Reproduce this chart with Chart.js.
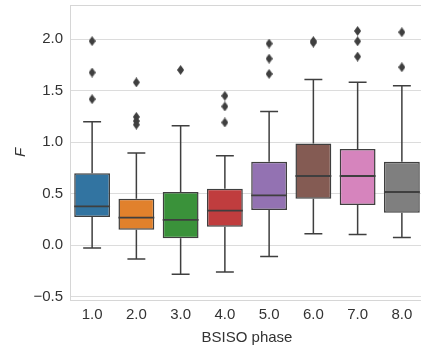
<!DOCTYPE html>
<html>
<head>
<meta charset="utf-8">
<script src="https://cdn.jsdelivr.net/npm/chart.js@4"></script>
<style>
  html, body { margin: 0; padding: 0; background: #fff; overflow: hidden; }
  #wrap { width: 421px; height: 347px; overflow: hidden; }
</style>
</head>
<body>
<div id="wrap"><canvas id="myChart" width="429" height="347"></canvas></div>
<script>
// BSISO phase boxplot values
const phases = ['1.0', '2.0', '3.0', '4.0', '5.0', '6.0', '7.0', '8.0'];
const q1 = [0.275, 0.152, 0.068, 0.181, 0.343, 0.452, 0.391, 0.317];
const q3 = [0.700, 0.452, 0.517, 0.549, 0.810, 0.987, 0.933, 0.810];
const medians = [0.377, 0.268, 0.246, 0.336, 0.484, 0.672, 0.672, 0.517];
const whiskerLow = [-0.025, -0.132, -0.281, -0.258, -0.109, 0.113, 0.104, 0.075];
const whiskerHigh = [1.197, 0.894, 1.159, 0.868, 1.297, 1.607, 1.580, 1.546];
const outliers = [
  [1.98, 1.675, 1.417],
  [1.58, 1.245, 1.205, 1.17],
  [1.70],
  [1.449, 1.346, 1.191],
  [1.956, 1.81, 1.662],
  [1.965, 1.98],
  [2.078, 1.978, 1.83],
  [2.066, 1.727]
];
const yTicks = [-0.5, 0.0, 0.5, 1.0, 1.5, 2.0];

const boxColors = ['#3274a1', '#e1812c', '#3a923a', '#c03d3e', '#9372b2', '#845b53', '#d684bd', '#7f7f7f'];
const edge = '#3f3f3f';

// thin diamond marker like matplotlib 'd'
const dia = document.createElement('canvas');
dia.width = 7; dia.height = 10;
const dctx = dia.getContext('2d');
dctx.fillStyle = edge;
dctx.beginPath();
dctx.moveTo(3.5, 0); dctx.lineTo(7, 5); dctx.lineTo(3.5, 10); dctx.lineTo(0, 5);
dctx.closePath(); dctx.fill();

const boxData = phases.map((p, i) => [q1[i], q3[i]]);
const outlierData = [];
outliers.forEach((arr, i) => {
  arr.forEach(v => outlierData.push({x: phases[i], y: v}));
});

const frame = {
  id: 'frame',
  beforeDatasetsDraw(chart) {
    const a = chart.chartArea, c = chart.ctx;
    c.save();
    c.strokeStyle = '#d6d6d6';
    c.lineWidth = 1;
    c.strokeRect(a.left + 0.5, a.top + 0.5, a.right - a.left, a.bottom - a.top);
    c.restore();
  }
};

const whiskers = {
  id: 'whiskers',
  afterDatasetsDraw(chart) {
    const c = chart.ctx, xs = chart.scales.x, ys = chart.scales.y;
    const meta = chart.getDatasetMeta(0);
    c.save();
    c.strokeStyle = edge;
    c.lineWidth = 1.5;
    phases.forEach((p, i) => {
      const x = xs.getPixelForValue(i);
      const half = meta.data[i].width / 2;
      const cap = half / 2;
      c.beginPath();
      c.moveTo(x, ys.getPixelForValue(q3[i]));
      c.lineTo(x, ys.getPixelForValue(whiskerHigh[i]));
      c.moveTo(x - cap, ys.getPixelForValue(whiskerHigh[i]));
      c.lineTo(x + cap, ys.getPixelForValue(whiskerHigh[i]));
      c.moveTo(x, ys.getPixelForValue(q1[i]));
      c.lineTo(x, ys.getPixelForValue(whiskerLow[i]));
      c.moveTo(x - cap, ys.getPixelForValue(whiskerLow[i]));
      c.lineTo(x + cap, ys.getPixelForValue(whiskerLow[i]));
      c.stroke();
      c.beginPath();
      c.lineWidth = 1.8;
      c.moveTo(x - half, ys.getPixelForValue(medians[i]));
      c.lineTo(x + half, ys.getPixelForValue(medians[i]));
      c.stroke();
      c.lineWidth = 1.5;
    });
    c.restore();
  }
};

const font = {family: '"Liberation Sans", Arial, sans-serif', size: 15};

new Chart(document.getElementById('myChart'), {
  type: 'bar',
  data: {
    labels: phases,
    datasets: [{
      data: boxData,
      backgroundColor: boxColors,
      borderColor: edge,
      borderWidth: 1.5,
      borderSkipped: false,
      barPercentage: 0.81,
      categoryPercentage: 1.0
    }, {
      type: 'line',
      data: outlierData,
      showLine: false,
      pointStyle: dia,
      pointRadius: 4,
      borderColor: edge,
      backgroundColor: edge
    }]
  },
  options: {
    responsive: false,
    animation: false,
    layout: {padding: {top: 5, right: 0, left: 0, bottom: 0}},
    plugins: {legend: {display: false}, tooltip: {enabled: false}},
    scales: {
      x: {
        grid: {display: false, drawTicks: false},
        border: {color: '#d6d6d6'},
        ticks: {color: '#333', font: font, padding: 6},
        title: {display: true, text: 'BSISO phase', color: '#333', font: font, padding: {top: 0, bottom: 0}},
        afterFit: s => { s.height = 47; s.paddingLeft = 0; s.paddingRight = 0; }
      },
      y: {
        min: -0.53,
        max: 2.33,
        afterBuildTicks: s => { s.ticks = yTicks.map(v => ({value: v})); },
        grid: {color: '#dcdcdc', drawTicks: false},
        border: {color: '#d6d6d6'},
        ticks: {
          color: '#333', font: font, padding: 7,
          callback: v => (v < 0 ? '\u2212' + Math.abs(v).toFixed(1) : v.toFixed(1))
        },
        title: {display: true, text: 'F', color: '#333', font: {family: font.family, size: 15, style: 'italic'}, padding: {top: 12, bottom: 0}},
        afterFit: s => { s.width = 70; s.paddingTop = 0; s.paddingBottom = 0; }
      }
    }
  },
  plugins: [frame, whiskers]
});
</script>
</body>
</html>
